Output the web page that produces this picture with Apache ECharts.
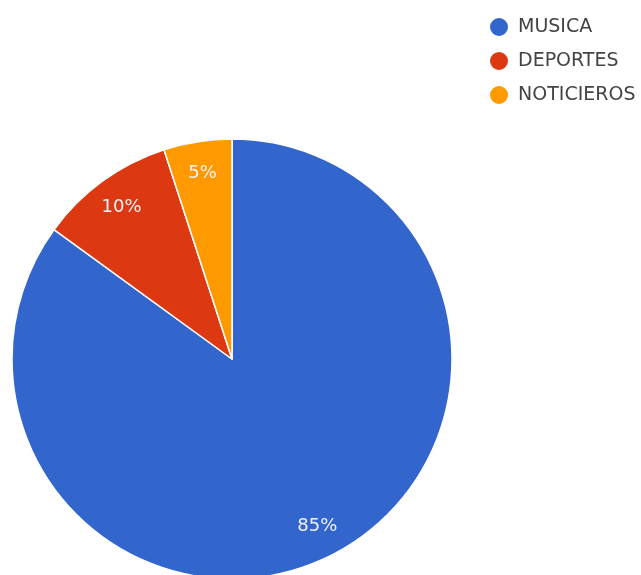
<!DOCTYPE html>
<html>
<head>
<meta charset="utf-8">
<style>
  html, body { margin: 0; padding: 0; background: #ffffff; }
  #chart { width: 641px; height: 575px; }
</style>
<script src="https://cdn.jsdelivr.net/npm/echarts@6/dist/echarts.min.js"></script>
</head>
<body>
<div id="chart"></div>
<script>
// Preferencias de programas
const categories = ['MUSICA', 'DEPORTES', 'NOTICIEROS'];
const values = [85, 10, 5];
const colors = ['#3366cc', '#dc3912', '#ff9900'];

const chart = echarts.init(document.getElementById('chart'), null, { renderer: 'canvas' });

const pieData = categories.map((name, i) => ({ name: name, value: values[i] }));
const total = values.reduce((a, b) => a + b, 0);
const pct = (v) => Math.round(v / total * 100) + '%';

const CENTER = [232, 359];
const R = 220;

chart.setOption({
  backgroundColor: '#ffffff',
  color: colors,
  animation: false,
  legend: {
    orient: 'vertical',
    left: 483,
    top: 11,
    icon: 'circle',
    itemWidth: 20,
    itemHeight: 20,
    itemGap: 12,
    data: categories,
    textStyle: {
      fontFamily: 'DejaVu Sans',
      fontSize: 19,
      color: '#444444',
      padding: [0, 0, 0, 4]
    }
  },
  series: [
    {
      type: 'pie',
      center: CENTER,
      radius: [0, R],
      startAngle: 90,
      clockwise: true,
      data: pieData,
      itemStyle: { borderColor: '#ffffff', borderWidth: 1.5 },
      label: { show: false },
      labelLine: { show: false },
      emphasis: { disabled: true }
    },
    {
      // Capa de etiquetas: el punto medio del anillo cae a 0.84 del radio
      type: 'pie',
      center: CENTER,
      radius: [0, R * 1.68],
      startAngle: 90,
      clockwise: true,
      silent: true,
      data: pieData,
      itemStyle: { color: 'rgba(0,0,0,0)', borderWidth: 0 },
      label: {
        show: true,
        position: 'inside',
        formatter: (p) => pct(p.value),
        fontFamily: 'DejaVu Sans',
        fontSize: 18,
        color: '#eef2fa'
      },
      labelLine: { show: false },
      emphasis: { disabled: true },
      legendHoverLink: false
    }
  ]
});
</script>
</body>
</html>
